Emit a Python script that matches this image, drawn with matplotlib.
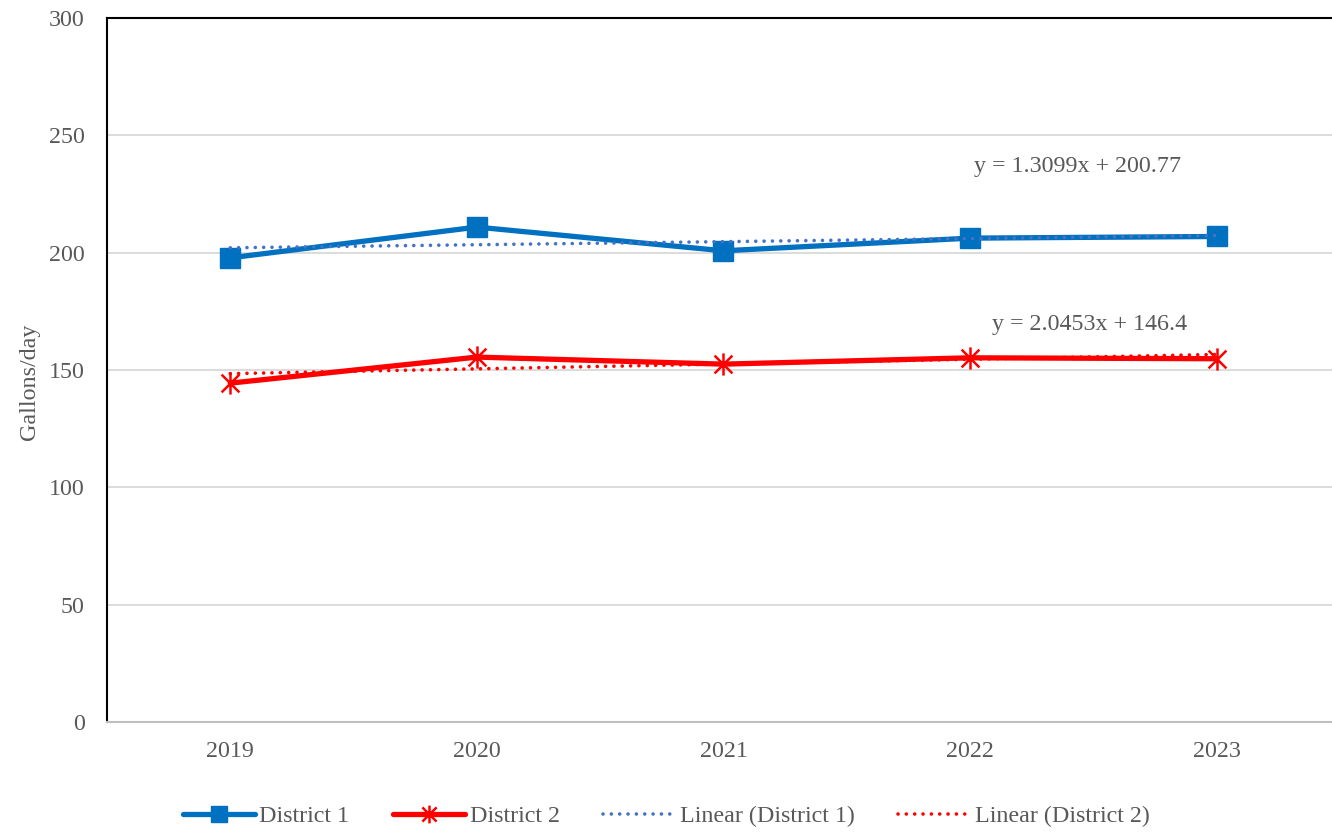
import matplotlib
matplotlib.use("Agg")
import matplotlib.pyplot as plt
from matplotlib.path import Path
import numpy as np

years = ["2019", "2020", "2021", "2022", "2023"]
district1 = [197.8, 210.9, 200.8, 206.2, 206.9]
district2 = [144.4, 155.5, 152.5, 155.2, 154.8]
trend1_slope, trend1_icpt = 1.3099, 200.77
trend2_slope, trend2_icpt = 2.0453, 146.4
eq1 = "y = 1.3099x + 200.77"
eq2 = "y = 2.0453x + 146.4"
yticks = [0, 50, 100, 150, 200, 250, 300]

plt.rcParams['font.family'] = ['Liberation Serif', 'DejaVu Serif']

fig = plt.figure(figsize=(13.32, 8.39), dpi=100)
ax = fig.add_axes([0.0803, 0.1395, 0.9257, 0.8390])

x = np.arange(len(years))
t = x + 1
trend1 = [trend1_slope * v + trend1_icpt for v in t]
trend2 = [trend2_slope * v + trend2_icpt for v in t]

star = Path([(-1, -1), (1, 1), (-1, 1), (1, -1), (0, -1.25), (0, 1.25)],
            [Path.MOVETO, Path.LINETO, Path.MOVETO, Path.LINETO, Path.MOVETO, Path.LINETO])

gray = '#595959'
fs = 17.3
for yv in yticks[1:]:
    ax.axhline(yv, color='#d9d9d9', lw=1.3, zorder=0)

ax.plot(x, district1, color='#0070C0', lw=3.8, marker='s', markersize=14,
        solid_capstyle='round', label='District 1', zorder=3)
ax.plot(x, district2, color='#FF0000', lw=3.8, marker=star, markersize=16,
        markeredgewidth=1.8, solid_capstyle='round', label='District 2', zorder=3)
ax.plot(x, trend1, color='#4472C4', lw=2.6, linestyle=(0, (0.01, 2.3)),
        dash_capstyle='round', label='Linear (District 1)', zorder=4)
ax.plot(x, trend2, color='#FF0000', lw=2.6, linestyle=(0, (0.01, 2.3)),
        dash_capstyle='round', label='Linear (District 2)', zorder=4)

ax.text(3.437, 236.9, eq1, ha='center', va='center', fontsize=fs, color=gray)
ax.text(3.485, 169.2, eq2, ha='center', va='center', fontsize=fs, color=gray)

ax.set_xlim(-0.5, 4.5)
ax.set_ylim(0, 300)
ax.set_xticks(x)
ax.set_xticklabels(years)
ax.set_yticks(yticks)
ax.tick_params(axis='both', length=0, labelsize=fs, colors=gray)
ax.tick_params(axis='x', pad=14)
ax.tick_params(axis='y', pad=16)
ax.set_ylabel('Gallons/day', fontsize=fs, color=gray)
ax.yaxis.set_label_coords(-0.054, 0.483)

ax.spines['right'].set_visible(False)
ax.spines['bottom'].set_color('#bfbfbf')
ax.spines['bottom'].set_linewidth(1.5)
ax.spines['top'].set_color('black')
ax.spines['top'].set_linewidth(1.5)
ax.spines['left'].set_color('black')
ax.spines['left'].set_linewidth(1.5)

leg = fig.legend(loc='center', bbox_to_anchor=(0.5, 0.027), ncol=4, frameon=False,
                 fontsize=fs, handlelength=3.0, columnspacing=1.8, handletextpad=0.2,
                 markerscale=0.8)
for txt in leg.get_texts():
    txt.set_color(gray)

fig.savefig('out.png', dpi=100)
